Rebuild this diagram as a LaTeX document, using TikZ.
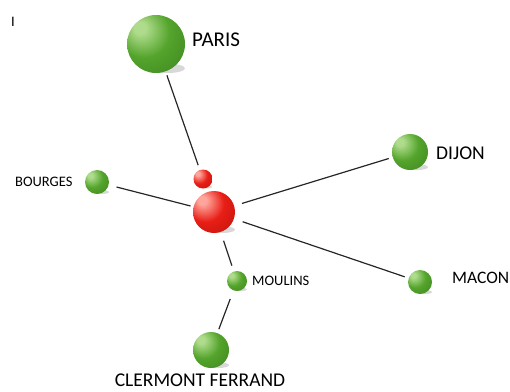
\documentclass[tikz,border=0pt]{standalone}
\usepackage{fontspec}
\setmainfont{Carlito}

\definecolor{greenLight}{RGB}{175,220,140}
\definecolor{greenMid}{RGB}{84,164,44}
\definecolor{greenDark}{RGB}{52,118,26}
\definecolor{redLight}{RGB}{255,165,155}
\definecolor{redMid}{RGB}{232,30,22}
\definecolor{redDark}{RGB}{170,14,8}

\pgfdeclareradialshading{greenball}{\pgfpoint{-15bp}{15bp}}{
    color(0bp)=(greenLight); color(5bp)=(greenLight); color(22bp)=(greenMid);
    color(55bp)=(greenDark); color(70bp)=(greenDark)}
\pgfdeclareradialshading{redball}{\pgfpoint{-15bp}{15bp}}{
    color(0bp)=(redLight); color(5bp)=(redLight); color(22bp)=(redMid);
    color(55bp)=(redDark); color(70bp)=(redDark)}

\tikzset{
    ball/.style={circle, inner sep=0pt},
    ballshadow/.style={fill=black!30, opacity=0.5},
    link/.style={draw=black!85, line width=1.2pt},
    bigtext/.style={inner sep=0pt, font=\fontsize{19.5}{21}\selectfont},
    smalltext/.style={inner sep=0pt, font=\fontsize{14.5}{16}\selectfont},
}

\begin{document}
\begin{tikzpicture}[x=1pt, y=-1pt]

\useasboundingbox (0,0) rectangle (510,391);

% Balls, with their shadows
\foreach \name/\x/\y/\d/\col in {
    paris/156/44/58/greenball,
    hubsmall/203/179/19/redball,
    hub/214/212/42/redball,
    dijon/410/152/36/greenball,
    bourges/97/182/24/greenball,
    macon/420/282/24/greenball,
    moulins/237/281/20/greenball,
    clermont/211/350/36/greenball%
} {
    \fill[ballshadow] (\x+0.2*\d, \y+0.42*\d) ellipse ({0.3*\d*1pt} and {0.08*\d*1pt});
    \node[ball, shading=\col, minimum size=\d pt] (\name) at (\x,\y) {};
}

% Links
\foreach \a/\b/\s/\e in {
    paris/hubsmall/4/5,
    bourges/hub/8/3,
    hub/dijon/8/4,
    hub/macon/9/4,
    hub/moulins/9/6,
    moulins/clermont/9/4%
} {
    \draw[link, shorten <=\s pt, shorten >=\e pt] (\a) -- (\b);
}

% Labels
\node[bigtext, anchor=west, font=\fontsize{21}{23}\selectfont] (parisLabel) at (192,40) {PARIS};
\node[bigtext, anchor=west] (dijonLabel) at (436,153) {DIJON};
\node[bigtext, anchor=west, font=\fontsize{17.5}{19}\selectfont] (maconLabel) at (452,278) {MACON};
\node[bigtext] (clermontLabel) at (200,380) {CLERMONT FERRAND};
\node[smalltext, anchor=west] (bourgesLabel) at (15,182) {BOURGES};
\node[smalltext, anchor=west] (moulinsLabel) at (252,281) {MOULINS};
\node[smalltext] (mark) at (13,22) {I};

\end{tikzpicture}
\end{document}
